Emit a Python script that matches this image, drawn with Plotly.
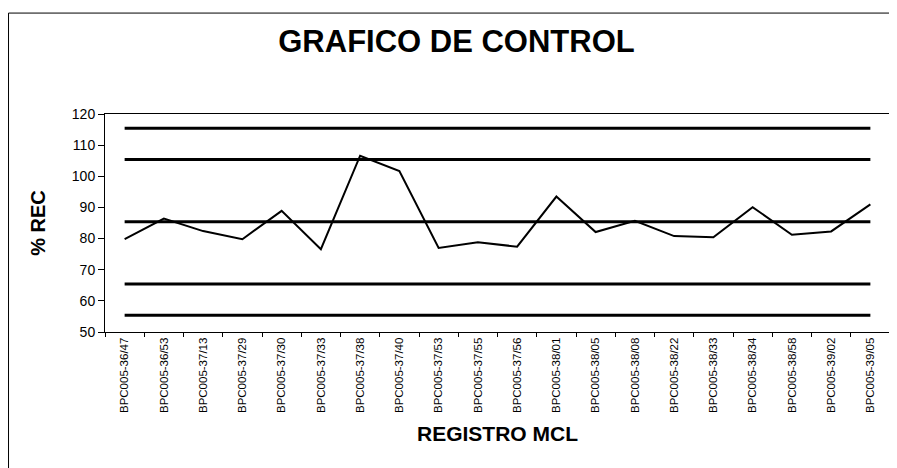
import plotly.graph_objects as go

categories = ["BPC005-36/47", "BPC005-36/53", "BPC005-37/13", "BPC005-37/29", "BPC005-37/30",
              "BPC005-37/33", "BPC005-37/38", "BPC005-37/40", "BPC005-37/53", "BPC005-37/55",
              "BPC005-37/56", "BPC005-38/01", "BPC005-38/05", "BPC005-38/08", "BPC005-38/22",
              "BPC005-38/33", "BPC005-38/34", "BPC005-38/58", "BPC005-39/02", "BPC005-39/05"]
rec_values = [79.8, 86.4, 82.4, 79.8, 88.9, 76.6, 106.6, 101.7, 77.0, 78.8,
              77.4, 93.5, 82.1, 85.7, 80.8, 80.4, 90.1, 81.2, 82.3, 91.0]
center_line = 85.4
limit_lines = [115.4, 105.4, 65.4, 55.4]

FONT = "Liberation Sans, Arial, sans-serif"

fig = go.Figure()
for lv in limit_lines + [center_line]:
    fig.add_trace(go.Scatter(x=categories, y=[lv] * len(categories), mode="lines",
                             line=dict(color="black", width=3), hoverinfo="skip", showlegend=False))
fig.add_trace(go.Scatter(x=categories, y=rec_values, mode="lines",
                         line=dict(color="black", width=2), showlegend=False, name="% REC"))

# outer frame (left and top edges)
fig.add_shape(type="line", xref="paper", yref="paper", x0=-0.1229, x1=-0.1229, y0=-0.66, y1=1.463,
              line=dict(color="black", width=1))
fig.add_shape(type="line", xref="paper", yref="paper", x0=-0.1229, x1=1.02, y0=1.463, y1=1.463,
              line=dict(color="black", width=1))

fig.update_layout(
    width=897, height=468,
    margin=dict(l=97, r=15, t=106, b=144),
    paper_bgcolor="white", plot_bgcolor="white",
    font=dict(family=FONT, color="black"),
    title=dict(text="<b>GRAFICO DE CONTROL</b>", x=0.5, xanchor="center",
               y=1 - 33 / 468, yanchor="middle", font=dict(size=31, family=FONT, color="black")),
)
fig.update_xaxes(
    type="category", range=[-0.5, len(categories) - 0.5],
    tickangle=-90, tickfont=dict(size=11.5, family=FONT, color="black"),
    ticks="outside", tickson="boundaries", ticklen=4, tickcolor="black",
    showline=True, linecolor="black", linewidth=1, mirror=True, showgrid=False,
    title=dict(text="<b>REGISTRO MCL</b>", font=dict(size=21, family=FONT, color="black"), standoff=14),
)
fig.update_yaxes(
    range=[50, 120], dtick=10, tick0=50,
    tickfont=dict(size=14, family=FONT, color="black"),
    ticks="outside", ticklen=6, tickcolor="black",
    showline=True, linecolor="black", linewidth=1, mirror=True, showgrid=False, zeroline=False,
    title=dict(text="<b>% REC</b>", font=dict(size=20, family=FONT, color="black"), standoff=20),
)

fig.write_html("out.html")
